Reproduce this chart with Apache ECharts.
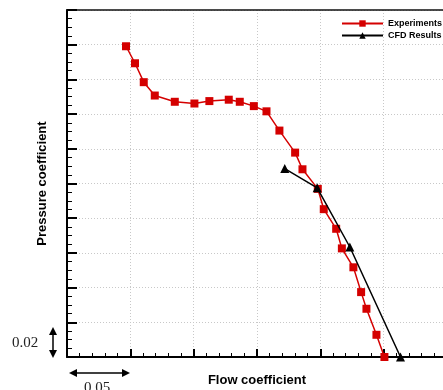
<!DOCTYPE html>
<html>
<head>
<meta charset="utf-8">
<script src="https://cdn.jsdelivr.net/npm/echarts@6/dist/echarts.min.js"></script>
<style>
  html, body { margin: 0; padding: 0; background: #fff; }
  #chart { width: 443px; height: 390px; }
</style>
</head>
<body>
<div id="chart"></div>
<script>
// experiments (flow coefficient, pressure coefficient)
const expFlow = [0.0466, 0.0537, 0.0606, 0.0693, 0.0851, 0.1006, 0.1124, 0.1277, 0.1364, 0.1475, 0.1575, 0.1677,
  0.1801, 0.1859, 0.1980, 0.2027, 0.2125, 0.2170, 0.2261, 0.2322, 0.2364, 0.2443, 0.2506];
const expPressure = [0.1791, 0.1693, 0.1584, 0.1507, 0.1471, 0.1461, 0.1475, 0.1483, 0.1471, 0.1446, 0.1416, 0.1305,
  0.1178, 0.1082, 0.0969, 0.0852, 0.0739, 0.0626, 0.0517, 0.0374, 0.0278, 0.0128, 0.0];
// CFD results
const cfdFlow = [0.1719, 0.1975, 0.2233, 0.2633];
const cfdPressure = [0.1086, 0.0975, 0.0634, 0.0];

const seriesNames = ["Experiments", "CFD Results"];

const chart = echarts.init(document.getElementById("chart"));

const pair = (xs, ys) => xs.map((x, i) => [x, ys[i]]);

const option = {
  animation: false,
  textStyle: { fontFamily: "Liberation Sans, Arial, sans-serif" },
  grid: { left: 67, top: 10, width: 380, height: 347, outerBoundsMode: "none" },
  legend: {
    data: seriesNames,
    orient: "vertical",
    left: 336,
    top: 14,
    padding: 5,
    itemWidth: 41,
    itemHeight: 8,
    itemGap: 3,
    textStyle: { fontSize: 9, fontWeight: "bold", color: "#000", padding: 0 },
  },
  xAxis: [
    {
      type: "value",
      min: 0,
      max: 0.3,
      interval: 0.05,
      name: "Flow coefficient",
      nameLocation: "middle",
      nameGap: 17,
      nameTextStyle: { fontSize: 13, fontWeight: "bold", color: "#000" },
      axisLine: { lineStyle: { color: "#000", width: 2 } },
      axisTick: { inside: true, length: 8, lineStyle: { color: "#000", width: 2 } },
      minorTick: { show: true, splitNumber: 5, length: 4, lineStyle: { color: "#000", width: 1 } },
      axisLabel: { show: false },
      splitLine: { show: true, lineStyle: { color: "#c8c8c8", type: [1, 2], width: 1 } },
    },
    {
      type: "value",
      position: "top",
      min: 0,
      max: 0.3,
      axisLine: { show: true, lineStyle: { color: "#111", width: 1.5 } },
      axisTick: { show: false },
      axisLabel: { show: false },
      splitLine: { show: false },
    },
  ],
  yAxis: {
    type: "value",
    min: 0,
    max: 0.2,
    interval: 0.02,
    name: "Pressure coefficient",
    nameLocation: "middle",
    nameGap: 18,
    nameTextStyle: { fontSize: 13, fontWeight: "bold", color: "#000" },
    axisLine: { show: true, lineStyle: { color: "#000", width: 2 } },
    axisTick: { inside: true, length: 10, lineStyle: { color: "#000", width: 2 } },
    minorTick: { show: true, splitNumber: 4, length: 5, lineStyle: { color: "#000", width: 1 } },
    axisLabel: { show: false },
    splitLine: { show: true, lineStyle: { color: "#c8c8c8", type: [1, 2], width: 1 } },
  },
  series: [
    {
      name: seriesNames[0],
      type: "line",
      data: pair(expFlow, expPressure),
      symbol: "rect",
      symbolSize: 8,
      clip: false,
      itemStyle: { color: "#d40000" },
      lineStyle: { color: "#d40000", width: 1.5 },
      z: 3,
    },
    {
      name: seriesNames[1],
      type: "line",
      data: pair(cfdFlow, cfdPressure),
      symbol: "triangle",
      symbolSize: 9,
      clip: false,
      itemStyle: { color: "#000" },
      lineStyle: { color: "#000", width: 1.5 },
      z: 4,
    },
  ],
  graphic: [
    // vertical scale arrow (0.02)
    { type: "line", shape: { x1: 53, y1: 330, x2: 53, y2: 355 }, style: { stroke: "#000", lineWidth: 1.5 } },
    { type: "polygon", shape: { points: [[49, 335], [57, 335], [53, 327]] }, style: { fill: "#000" } },
    { type: "polygon", shape: { points: [[49, 350], [57, 350], [53, 358]] }, style: { fill: "#000" } },
    { type: "text", left: 12, top: 336, style: { text: "0.02", font: "15px 'Liberation Serif', serif", fill: "#222" } },
    // horizontal scale arrow (0.05)
    { type: "line", shape: { x1: 71, y1: 373, x2: 128, y2: 373 }, style: { stroke: "#000", lineWidth: 1.5 } },
    { type: "polygon", shape: { points: [[77, 369], [77, 377], [69, 373]] }, style: { fill: "#000" } },
    { type: "polygon", shape: { points: [[122, 369], [122, 377], [130, 373]] }, style: { fill: "#000" } },
    { type: "text", left: 84, top: 381, style: { text: "0.05", font: "15px 'Liberation Serif', serif", fill: "#222" } },
  ],
};

chart.setOption(option);
</script>
</body>
</html>
